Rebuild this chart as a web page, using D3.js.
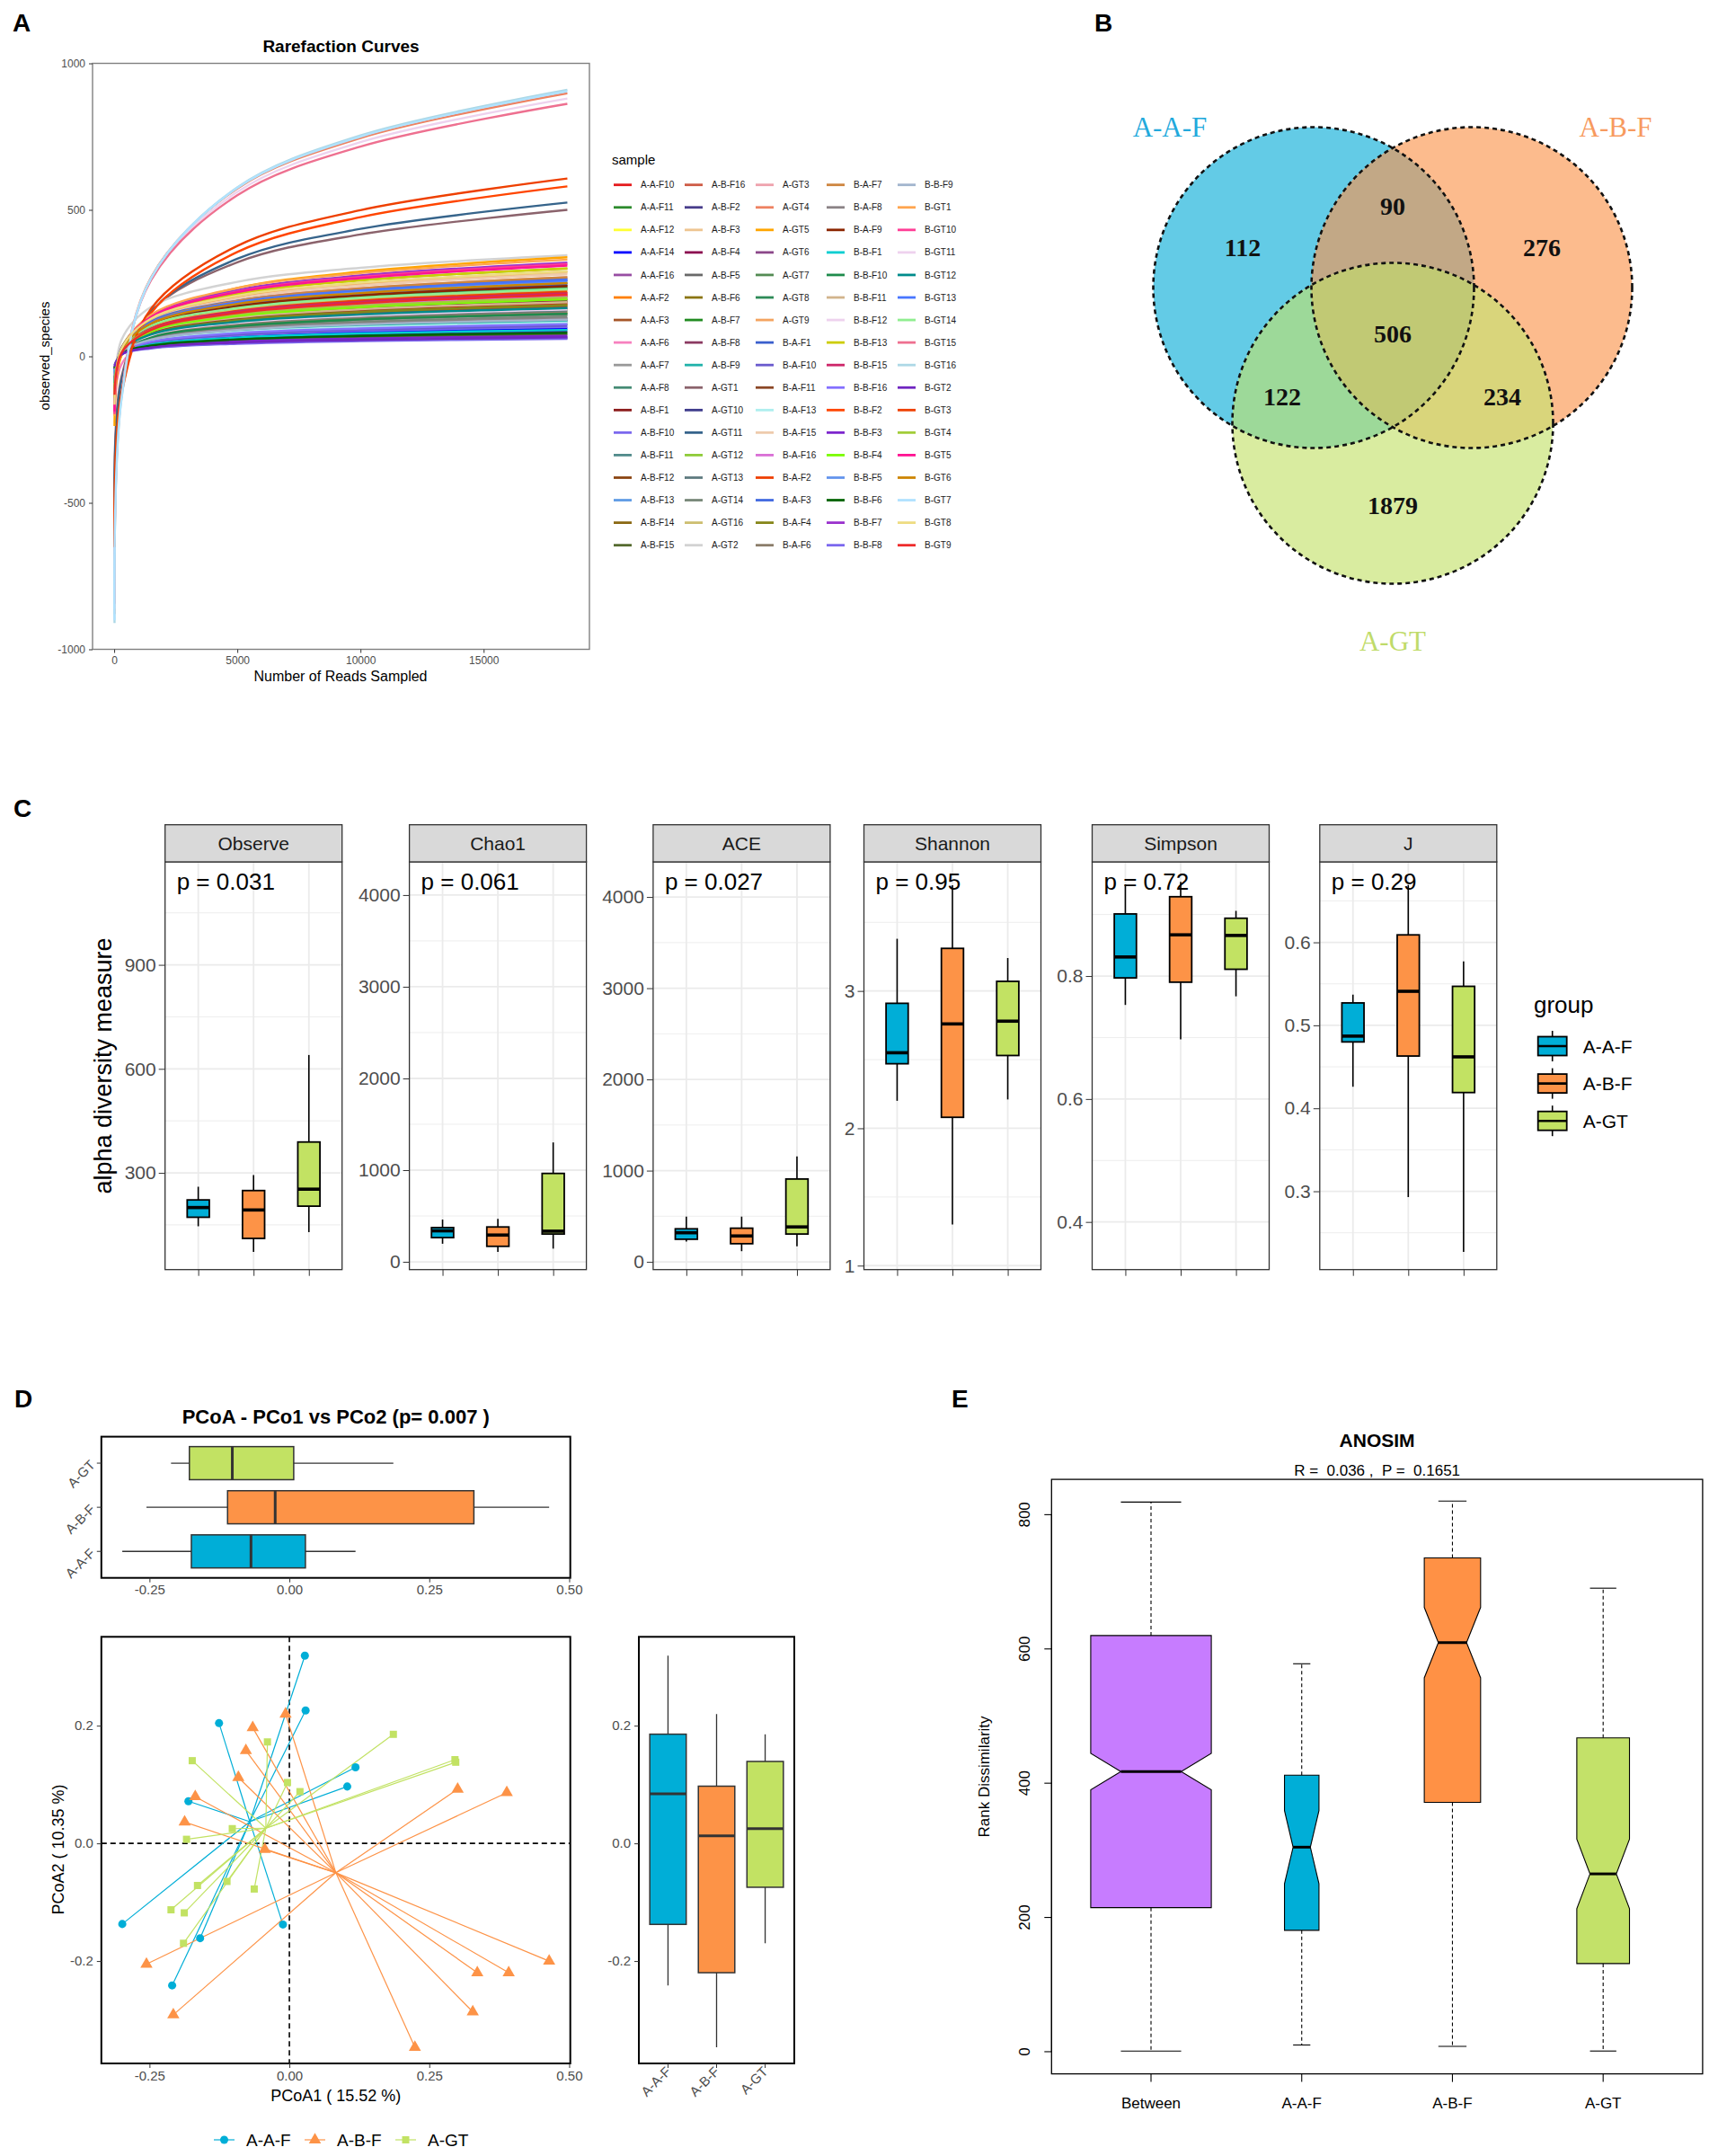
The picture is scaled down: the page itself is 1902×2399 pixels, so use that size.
<!DOCTYPE html>
<html>
<head>
<meta charset="utf-8">
<script src="https://cdn.jsdelivr.net/npm/d3@7"></script>
<style>
  body { margin: 0; background: #fff; }
</style>
</head>
<body>
<script>
// ---------------- data: panel A (rarefaction) ----------------
const sampleNames = [
  "A-A-F10","A-A-F11","A-A-F12","A-A-F14","A-A-F16","A-A-F2","A-A-F3","A-A-F6","A-A-F7","A-A-F8","A-B-F1","A-B-F10","A-B-F11","A-B-F12","A-B-F13","A-B-F14","A-B-F15",
  "A-B-F16","A-B-F2","A-B-F3","A-B-F4","A-B-F5","A-B-F6","A-B-F7","A-B-F8","A-B-F9","A-GT1","A-GT10","A-GT11","A-GT12","A-GT13","A-GT14","A-GT16","A-GT2",
  "A-GT3","A-GT4","A-GT5","A-GT6","A-GT7","A-GT8","A-GT9","B-A-F1","B-A-F10","B-A-F11","B-A-F13","B-A-F15","B-A-F16","B-A-F2","B-A-F3","B-A-F4","B-A-F6",
  "B-A-F7","B-A-F8","B-A-F9","B-B-F1","B-B-F10","B-B-F11","B-B-F12","B-B-F13","B-B-F15","B-B-F16","B-B-F2","B-B-F3","B-B-F4","B-B-F5","B-B-F6","B-B-F7","B-B-F8",
  "B-B-F9","B-GT1","B-GT10","B-GT11","B-GT12","B-GT13","B-GT14","B-GT15","B-GT16","B-GT2","B-GT3","B-GT4","B-GT5","B-GT6","B-GT7","B-GT8","B-GT9"
];
const sampleColors = [
  "#E41A1C","#2D8B2D","#FFFF33","#0000FF","#984EA3","#FF7F00","#A65628","#F781BF","#999999","#458B74","#8B1A1A","#7B68EE","#528B8B","#8B4513","#5F9BE5","#8B6914","#556B2F",
  "#CD5B45","#483D8B","#EEC591","#8B0A50","#696969","#8B7513","#228B22","#8B3A62","#20B2AA","#8B636C","#3D3A8B","#36648B","#8FCB3A","#5F7B80","#778778","#CDBE70","#D3D3D3",
  "#EEA2AD","#EE8262","#FFA500","#8B4789","#548B54","#2E8B57","#F4A460","#3A5FCD","#6A5ACD","#8B4726","#AEEEEE","#EECBAD","#DA70D6","#EE4000","#4169E1","#86861A","#8B7D6B",
  "#CD853F","#8B8386","#8B2500","#00CED1","#1F8B4C","#D2B48C","#EED2EE","#CDCD00","#CD2669","#8470FF","#FF4500","#7D26CD","#7CFC00","#6495ED","#006400","#9A32CD","#7B68EE",
  "#A2B5CD","#FFA54F","#FF3E96","#EED2EE","#008B8B","#4876FF","#90EE90","#EE7090","#ADD8E6","#7026C0","#EE4000","#A2CD3A","#FF1493","#CD8500","#B0E2FF","#EEDC82","#EE2C2C"
];
const readSteps = [15, 300, 1500, 5000, 10000, 18400];
const observedSpecies = [
  [-104,15,80,128,156,180],[-126,24,105,165,200,230],[-99,6,62,105,129,150],[-47,13,45,69,83,95],[-79,5,50,84,103,120],
  [-146,4,85,145,180,210],[-100,13,75,121,147,170],[-191,-27,62,129,166,200],[-73,16,65,101,122,140],[-61,11,50,79,95,110],
  [-122,16,90,145,177,205],[-56,9,45,71,87,100],[-74,10,55,89,108,125],[-130,26,109,172,208,240],[-69,15,60,94,113,130],
  [-96,12,70,113,138,160],[-39,9,35,54,65,75],
  [-126,17,94,153,186,215],[-30,8,29,45,54,62],[-156,30,129,204,247,285],[-109,17,85,135,164,190],[-83,13,65,103,126,145],
  [-95,18,80,126,152,175],[-134,28,115,180,217,250],[-91,17,75,118,143,165],[-65,13,55,86,104,120],[-481,-69,154,321,416,500],
  [-43,11,40,62,74,85],[-527,-85,154,333,435,525],[-169,28,134,214,260,300],[-87,15,70,111,134,155],[-78,11,60,96,117,135],
  [-131,19,100,160,195,225],[-153,57,169,254,302,345],
  [-157,23,119,192,233,270],[-880,-132,270,573,745,898],[-238,4,135,233,289,338],[-138,29,119,187,226,260],[-118,14,85,138,168,195],
  [-135,21,105,167,203,235],[-179,18,124,204,250,290],[-139,23,109,175,212,245],[-59,10,47,75,91,105],[-114,12,80,130,159,185],
  [-63,12,52,83,100,115],[-175,16,119,197,241,280],[-122,16,90,145,177,205],[-136,14,95,155,190,220],[-147,26,119,190,230,265],
  [-109,10,75,123,151,175],[-85,14,67,107,130,150],
  [-171,15,114,189,232,270],[-69,15,60,94,113,130],[-137,22,107,171,208,240],[-52,8,40,64,78,90],[-83,13,65,103,126,145],
  [-99,20,85,133,161,185],[-89,16,72,115,139,160],[-184,20,129,212,259,300],[-126,17,94,153,186,215],[-61,11,50,79,95,110],
  [-643,-129,148,356,475,580],[-37,8,32,51,61,70],[-118,14,85,138,168,195],[-143,24,114,182,221,255],[-41,10,37,58,70,80],
  [-192,23,139,226,276,320],[-32,6,27,43,52,60],
  [-67,14,57,90,109,125],[-203,21,142,233,284,330],[-197,18,134,221,271,315],[-862,-129,265,561,731,880],[-91,17,75,118,143,165],
  [-152,21,114,185,225,260],[-126,24,105,165,200,230],[-844,-127,260,550,716,862],[-910,-145,267,577,754,910],[-35,7,30,47,56,65],
  [-651,-122,163,377,499,607],[-113,19,90,143,173,200],[-188,22,134,219,267,310],[-141,23,112,179,216,250],[-901,-141,267,575,750,905],
  [-165,26,129,207,251,290],[-131,12,90,148,181,210]
];
const rareXTicks = [0, 5000, 10000, 15000];
const rareYTicks = [-1000, -500, 0, 500, 1000];

// ---------------- data: panel B (Venn) ----------------
const vennSets = ["A-A-F", "A-B-F", "A-GT"];
const vennRegions = ["A", "AB", "B", "ABC", "AC", "BC", "C"];
const vennCounts = [112, 90, 276, 506, 122, 234, 1879];

// ---------------- data: panel C (alpha diversity) ----------------
const groups = ["A-A-F", "A-B-F", "A-GT"];
const groupColors = ["#00AED7", "#FD9347", "#C2E263"];
const alphaIndices = ["Observe", "Chao1", "ACE", "Shannon", "Simpson", "J"];
const alphaP = ["0.031", "0.061", "0.027", "0.95", "0.72", "0.29"];
// [min, q1, median, q3, max] for A-A-F, A-B-F, A-GT
const observeStats = [[146,172,200,222,260],[72,111,193,249,294],[129,204,253,389,640]];
const chao1Stats   = [[197,264,338,373,461],[109,169,292,380,468],[144,303,334,964,1302]];
const aceStats     = [[223,248,319,362,496],[117,199,284,369,496],[170,305,383,908,1156]];
const shannonStats = [[2.20,2.47,2.55,2.91,3.38],[1.30,2.08,2.76,3.31,3.77],[2.21,2.53,2.78,3.07,3.24]];
const simpsonStats = [[0.753,0.797,0.831,0.901,0.949],[0.697,0.790,0.867,0.929,0.953],[0.767,0.811,0.866,0.894,0.906]];
const jStats       = [[0.426,0.480,0.487,0.527,0.537],[0.293,0.463,0.541,0.609,0.669],[0.227,0.419,0.462,0.547,0.577]];
const alphaStats = [observeStats, chao1Stats, aceStats, shannonStats, simpsonStats, jStats];
const alphaDomains = [[21,1197],[-85,4362],[-85,4385],[0.971,3.94],[0.3225,0.9857],[0.2056,0.697]];
const alphaTicks = [[300,600,900],[0,1000,2000,3000,4000],[0,1000,2000,3000,4000],[1,2,3],[0.4,0.6,0.8],[0.3,0.4,0.5,0.6]];

// ---------------- data: panel D (PCoA) ----------------
const pcoaAAF = [[0.0277,0.319],[0.029,0.2259],[-0.1257,0.2043],[0.1182,0.1293],[0.1034,0.0966],
  [-0.1804,0.0716],[-0.2986,-0.1371],[-0.1595,-0.1612],[-0.0115,-0.1379],[-0.2095,-0.2414]];
const pcoaABF = [[-0.0068,0.2198],[-0.0655,0.1966],[-0.0777,0.1578],[-0.0912,0.1121],[-0.1682,0.0793],
  [-0.1872,0.0362],[-0.0439,-0.0103],[0.3007,0.0922],[0.3885,0.0862],[-0.2554,-0.2052],[-0.2074,-0.2914],
  [0.2243,-0.3466],[0.3277,-0.2862],[0.3358,-0.2198],[0.3919,-0.2198],[0.4642,-0.2]];
const pcoaAGT = [[-0.0392,0.1724],[0.1858,0.1853],[0.2959,0.1422],[0.2973,0.1379],[-0.1736,0.1405],
  [-0.0034,0.1034],[0.0189,0.0879],[-0.102,0.025],[-0.1838,0.0069],[-0.1642,-0.0716],[-0.1115,-0.0647],
  [-0.0628,-0.0776],[-0.2115,-0.1129],[-0.1878,-0.1181],[-0.1892,-0.1698]];
const pcoaTicks = [-0.25, 0, 0.25, 0.5];
const pcoaYTicks = [-0.2, 0, 0.2];

// ---------------- data: panel E (ANOSIM) ----------------
const anosimGroups = ["Between", "A-A-F", "A-B-F", "A-GT"];
const anosimColors = ["#C77CFF", "#00AED7", "#FF9145", "#C3E169"];
const anosimStats = [[1,214.6,417.3,619.9,818.8],[10,180.9,304.7,412,577.9],[8,371.5,609.4,735.5,820.3],[1,131.3,264.9,467.6,690.5]];
const anosimPairs = [550, 45, 120, 105];
const anosimTicks = [0, 200, 400, 600, 800];

// ================================================================
const svg = d3.select("body").append("svg")
  .attr("width", 1902).attr("height", 2399)
  .style("font-family", "'Liberation Sans', Arial, Helvetica, sans-serif");
svg.append("rect").attr("width", 1902).attr("height", 2399).attr("fill", "#fff");
const defs = svg.append("defs");

function styleAxis(g, size, color) {
  g.attr("font-family", null).attr("font-size", size);
  g.select(".domain").remove();
  g.selectAll(".tick line").attr("stroke", "#333");
  g.selectAll(".tick text").attr("fill", color);
}
const plain = d => String(d);

// panel letters
[["A",14,35],["B",1218,35],["C",15,909],["D",16,1566],["E",1059,1566]].forEach(p => {
  svg.append("text").attr("x", p[1]).attr("y", p[2]).text(p[0])
    .attr("font-size", 28).attr("font-weight", "bold");
});

// ---------------- panel A ----------------
{
  const x0 = 103, x1 = 656, y0 = 70.5, y1 = 722.5;
  const x = d3.scaleLinear().domain([-878, 19296]).range([x0, x1]);
  const y = d3.scaleLinear().domain([-1000, 1000]).range([y1, y0]);
  const g = svg.append("g");
  defs.append("clipPath").attr("id", "clipA").append("rect")
    .attr("x", x0).attr("y", y0).attr("width", x1 - x0).attr("height", y1 - y0);
  const line = d3.line().x((d, i) => x(readSteps[i])).y(d => y(d)).curve(d3.curveCatmullRom.alpha(0.5));
  g.append("g").attr("clip-path", "url(#clipA)")
    .selectAll("path").data(observedSpecies).join("path")
    .attr("d", line).attr("fill", "none")
    .attr("stroke", (d, i) => sampleColors[i]).attr("stroke-width", 2.4);
  g.append("rect").attr("x", x0).attr("y", y0).attr("width", x1 - x0).attr("height", y1 - y0)
    .attr("fill", "none").attr("stroke", "#808080").attr("stroke-width", 1.4);
  const ay = g.append("g").attr("transform", `translate(${x0},0)`)
    .call(d3.axisLeft(y).tickValues(rareYTicks).tickSize(4).tickPadding(4).tickFormat(plain));
  styleAxis(ay, 12, "#4D4D4D");
  const ax = g.append("g").attr("transform", `translate(0,${y1})`)
    .call(d3.axisBottom(x).tickValues(rareXTicks).tickSize(4).tickPadding(4).tickFormat(plain));
  styleAxis(ax, 12, "#4D4D4D");
  g.append("text").attr("x", (x0 + x1) / 2).attr("y", 58).attr("text-anchor", "middle")
    .attr("font-size", 19).attr("font-weight", "bold").text("Rarefaction Curves");
  g.append("text").attr("x", 379).attr("y", 758).attr("text-anchor", "middle")
    .attr("font-size", 16).text("Number of Reads Sampled");
  g.append("text").attr("transform", "translate(55,396) rotate(-90)").attr("text-anchor", "middle")
    .attr("font-size", 15).text("observed_species");

  const leg = g.append("g");
  leg.append("text").attr("x", 681).attr("y", 183).attr("font-size", 15).text("sample");
  const item = leg.selectAll("g.it").data(sampleNames).join("g").attr("class", "it")
    .attr("transform", (d, i) => `translate(${683 + Math.floor(i / 17) * 79},${205.7 + (i % 17) * 25.06})`);
  item.append("line").attr("x1", 0).attr("x2", 20)
    .attr("stroke", (d, i) => sampleColors[i]).attr("stroke-width", 2.8);
  item.append("text").attr("x", 30).attr("y", 3.6).attr("font-size", 10).attr("fill", "#1a1a1a").text(d => d);
}

// ---------------- panel B ----------------
{
  const circles = [{cx: 1462, cy: 320}, {cx: 1638, cy: 320}, {cx: 1550, cy: 471}];
  const r = 178.5;
  const regionFill = {A: "#63CBE6", B: "#FCBB8D", C: "#D9ECA0", AB: "#C2A886", AC: "#9DD999", BC: "#D9D57B", ABC: "#C1C974"};
  const labelPos = {A: [1383, 275], AB: [1550, 229], B: [1716, 275], ABC: [1550, 371], AC: [1427, 441], BC: [1672, 441], C: [1550, 562]};
  const setLabelPos = [[1302, 141], [1798, 141], [1550, 713]];
  const setColors = ["#22A9DC", "#F79A5E", "#BFDB6A"];
  const g = svg.append("g");
  circles.forEach((c, i) => {
    defs.append("clipPath").attr("id", "vclip" + i).append("circle").attr("cx", c.cx).attr("cy", c.cy).attr("r", r);
  });
  const circ = (sel, c, fill) => sel.append("circle").attr("cx", c.cx).attr("cy", c.cy).attr("r", r).attr("fill", fill);
  circ(g, circles[0], regionFill.A);
  circ(g, circles[1], regionFill.B);
  circ(g, circles[2], regionFill.C);
  circ(g.append("g").attr("clip-path", "url(#vclip0)"), circles[1], regionFill.AB);
  circ(g.append("g").attr("clip-path", "url(#vclip0)"), circles[2], regionFill.AC);
  circ(g.append("g").attr("clip-path", "url(#vclip1)"), circles[2], regionFill.BC);
  circ(g.append("g").attr("clip-path", "url(#vclip0)").append("g").attr("clip-path", "url(#vclip1)"), circles[2], regionFill.ABC);
  g.selectAll("circle.o").data(circles).join("circle").attr("class", "o")
    .attr("cx", d => d.cx).attr("cy", d => d.cy).attr("r", r)
    .attr("fill", "none").attr("stroke", "#111").attr("stroke-width", 2.6).attr("stroke-dasharray", "5,4");
  g.selectAll("text.n").data(vennRegions).join("text").attr("class", "n")
    .attr("x", d => labelPos[d][0]).attr("y", d => labelPos[d][1])
    .attr("text-anchor", "middle").attr("dominant-baseline", "central")
    .attr("font-family", "'Liberation Serif', 'Times New Roman', serif").attr("font-weight", "bold")
    .attr("font-size", 28).attr("fill", "#111")
    .text((d, i) => vennCounts[i]);
  g.selectAll("text.s").data(vennSets).join("text").attr("class", "s")
    .attr("x", (d, i) => setLabelPos[i][0]).attr("y", (d, i) => setLabelPos[i][1])
    .attr("text-anchor", "middle").attr("dominant-baseline", "central")
    .attr("font-family", "'Liberation Serif', 'Times New Roman', serif")
    .attr("font-size", 31).attr("fill", (d, i) => setColors[i]).text(d => d);
}

// ---------------- panel C ----------------
{
  const panelX = [183.7, 455.6, 726.9, 961.5, 1215.5, 1468.8];
  const pw = 197, stripTop = 917.7, top = 959, bottom = 1412.7;
  alphaIndices.forEach((name, k) => {
    const x0 = panelX[k], x1 = x0 + pw;
    const x = d3.scalePoint().domain(groups).range([x0, x1]).padding(0.6);
    const dom = alphaDomains[k];
    const y = d3.scaleLinear().domain(dom).range([bottom, top]);
    const ticks = alphaTicks[k];
    const step = ticks[1] - ticks[0];
    const minors = [ticks[0] - step / 2].concat(ticks.map(t => t + step / 2)).filter(v => v > dom[0] && v < dom[1]);
    const g = svg.append("g");
    g.selectAll("line.mi").data(minors).join("line").attr("class", "mi")
      .attr("x1", x0).attr("x2", x1).attr("y1", d => y(d)).attr("y2", d => y(d))
      .attr("stroke", "#EBEBEB").attr("stroke-width", 0.9);
    g.selectAll("line.ma").data(ticks).join("line").attr("class", "ma")
      .attr("x1", x0).attr("x2", x1).attr("y1", d => y(d)).attr("y2", d => y(d))
      .attr("stroke", "#EBEBEB").attr("stroke-width", 1.8);
    g.selectAll("line.vx").data(groups).join("line").attr("class", "vx")
      .attr("x1", d => x(d)).attr("x2", d => x(d)).attr("y1", top).attr("y2", bottom)
      .attr("stroke", "#EBEBEB").attr("stroke-width", 1.8);
    const bw = x.step() * 0.4;
    const box = g.selectAll("g.b").data(alphaStats[k]).join("g").attr("class", "b");
    box.append("line").attr("x1", (d, i) => x(groups[i])).attr("x2", (d, i) => x(groups[i]))
      .attr("y1", d => y(d[0])).attr("y2", d => y(d[4])).attr("stroke", "#000").attr("stroke-width", 1.6);
    box.append("rect").attr("x", (d, i) => x(groups[i]) - bw / 2).attr("width", bw)
      .attr("y", d => y(d[3])).attr("height", d => y(d[1]) - y(d[3]))
      .attr("fill", (d, i) => groupColors[i]).attr("stroke", "#000").attr("stroke-width", 1.8);
    box.append("line").attr("x1", (d, i) => x(groups[i]) - bw / 2).attr("x2", (d, i) => x(groups[i]) + bw / 2)
      .attr("y1", d => y(d[2])).attr("y2", d => y(d[2])).attr("stroke", "#000").attr("stroke-width", 3.6);
    g.append("rect").attr("x", x0).attr("y", top).attr("width", pw).attr("height", bottom - top)
      .attr("fill", "none").attr("stroke", "#333").attr("stroke-width", 1.3);
    g.append("rect").attr("x", x0).attr("y", stripTop).attr("width", pw).attr("height", top - stripTop)
      .attr("fill", "#D9D9D9").attr("stroke", "#333").attr("stroke-width", 1.3);
    g.append("text").attr("x", (x0 + x1) / 2).attr("y", (stripTop + top) / 2).attr("dominant-baseline", "central")
      .attr("text-anchor", "middle").attr("font-size", 21).attr("fill", "#1A1A1A").text(name);
    const ay = g.append("g").attr("transform", `translate(${x0},0)`)
      .call(d3.axisLeft(y).tickValues(ticks).tickSize(7).tickPadding(3).tickFormat(plain));
    styleAxis(ay, 21, "#4D4D4D");
    const ax = g.append("g").attr("transform", `translate(0,${bottom})`)
      .call(d3.axisBottom(x).tickSize(7).tickFormat(""));
    styleAxis(ax, 10, "#4D4D4D");
    g.append("text").attr("x", x0 + 13).attr("y", 990).attr("font-size", 26).attr("fill", "#000")
      .text("p = " + alphaP[k]);
  });
  svg.append("text").attr("transform", "translate(124,1186) rotate(-90)").attr("text-anchor", "middle")
    .attr("font-size", 27).text("alpha diversity measure");
  const leg = svg.append("g");
  leg.append("text").attr("x", 1707).attr("y", 1127).attr("font-size", 26).text("group");
  const it = leg.selectAll("g.k").data(groups).join("g").attr("class", "k")
    .attr("transform", (d, i) => `translate(1727.7,${1164 + i * 41.6})`);
  it.append("line").attr("y1", -17).attr("y2", 17).attr("stroke", "#000").attr("stroke-width", 1.6);
  it.append("rect").attr("x", -16).attr("y", -10.5).attr("width", 32).attr("height", 21)
    .attr("fill", (d, i) => groupColors[i]).attr("stroke", "#000").attr("stroke-width", 1.8);
  it.append("line").attr("x1", -16).attr("x2", 16).attr("stroke", "#000").attr("stroke-width", 2.6);
  it.append("text").attr("x", 34).attr("dominant-baseline", "central").attr("font-size", 21).text(d => d);
}

// ---------------- panel D ----------------
{
  const x0 = 112.8, x1 = 634.7;
  const tTop = 1598.6, tBot = 1755.7, sTop = 1821.3, sBot = 2296, rX0 = 711, rX1 = 884;
  const sets = [pcoaAAF, pcoaABF, pcoaAGT];
  const shapes = [d3.symbolCircle, d3.symbolTriangle, d3.symbolSquare];
  const x = d3.scaleLinear().domain([-0.336, 0.502]).range([x0, x1]);
  const y = d3.scaleLinear().domain([-0.374, 0.351]).range([sBot, sTop]);
  const f2 = d => d.toFixed(2), f1 = d => d.toFixed(1);
  function boxStats(vals) {
    const s = vals.slice().sort(d3.ascending);
    const q1 = d3.quantileSorted(s, 0.25), md = d3.quantileSorted(s, 0.5), q3 = d3.quantileSorted(s, 0.75);
    const iqr = q3 - q1;
    return [d3.min(s.filter(v => v >= q1 - 1.5 * iqr)), q1, md, q3, d3.max(s.filter(v => v <= q3 + 1.5 * iqr))];
  }
  const g = svg.append("g");
  g.append("text").attr("x", (x0 + x1) / 2).attr("y", 1584).attr("text-anchor", "middle")
    .attr("font-size", 22).attr("font-weight", "bold").text("PCoA - PCo1 vs PCo2 (p= 0.007 )");

  // top boxplot (PCo1)
  const yb = d3.scalePoint().domain(groups).range([tBot, tTop]).padding(0.6);
  const bh = yb.step() * 0.75;
  sets.forEach((pts, i) => {
    const st = boxStats(pts.map(p => p[0]));
    const cy = yb(groups[i]);
    g.append("line").attr("x1", x(st[0])).attr("x2", x(st[4])).attr("y1", cy).attr("y2", cy)
      .attr("stroke", "#333").attr("stroke-width", 1.3);
    g.append("rect").attr("x", x(st[1])).attr("width", x(st[3]) - x(st[1])).attr("y", cy - bh / 2).attr("height", bh)
      .attr("fill", groupColors[i]).attr("stroke", "#333").attr("stroke-width", 1.5);
    g.append("line").attr("x1", x(st[2])).attr("x2", x(st[2])).attr("y1", cy - bh / 2).attr("y2", cy + bh / 2)
      .attr("stroke", "#333").attr("stroke-width", 3);
  });
  g.append("rect").attr("x", x0).attr("y", tTop).attr("width", x1 - x0).attr("height", tBot - tTop)
    .attr("fill", "none").attr("stroke", "#000").attr("stroke-width", 2);
  const tx = g.append("g").attr("transform", `translate(0,${tBot})`)
    .call(d3.axisBottom(x).tickValues(pcoaTicks).tickSize(5).tickPadding(3).tickFormat(f2));
  styleAxis(tx, 15, "#4D4D4D");
  groups.forEach(gr => {
    g.append("line").attr("x1", x0 - 5).attr("x2", x0).attr("y1", yb(gr)).attr("y2", yb(gr)).attr("stroke", "#333");
    g.append("text").attr("transform", `translate(${x0 - 6},${yb(gr) + 3}) rotate(-45)`)
      .attr("text-anchor", "end").attr("font-size", 15).attr("fill", "#4D4D4D").text(gr);
  });

  // scatter
  g.append("line").attr("x1", x(0)).attr("x2", x(0)).attr("y1", sTop).attr("y2", sBot)
    .attr("stroke", "#000").attr("stroke-width", 1.6).attr("stroke-dasharray", "6,4");
  g.append("line").attr("x1", x0).attr("x2", x1).attr("y1", y(0)).attr("y2", y(0))
    .attr("stroke", "#000").attr("stroke-width", 1.6).attr("stroke-dasharray", "6,4");
  sets.forEach((pts, i) => {
    const cx = d3.mean(pts, p => p[0]), cy = d3.mean(pts, p => p[1]);
    g.append("g").selectAll("line").data(pts).join("line")
      .attr("x1", p => x(p[0])).attr("y1", p => y(p[1])).attr("x2", x(cx)).attr("y2", y(cy))
      .attr("stroke", groupColors[i]).attr("stroke-width", 1.2);
  });
  sets.forEach((pts, i) => {
    g.append("g").selectAll("path").data(pts).join("path")
      .attr("transform", p => `translate(${x(p[0])},${y(p[1])})`)
      .attr("d", d3.symbol().type(shapes[i]).size(i === 1 ? 80 : 64))
      .attr("fill", groupColors[i]);
  });
  g.append("rect").attr("x", x0).attr("y", sTop).attr("width", x1 - x0).attr("height", sBot - sTop)
    .attr("fill", "none").attr("stroke", "#000").attr("stroke-width", 2);
  const sx = g.append("g").attr("transform", `translate(0,${sBot})`)
    .call(d3.axisBottom(x).tickValues(pcoaTicks).tickSize(5).tickPadding(3).tickFormat(f2));
  styleAxis(sx, 15, "#4D4D4D");
  const sy = g.append("g").attr("transform", `translate(${x0},0)`)
    .call(d3.axisLeft(y).tickValues(pcoaYTicks).tickSize(5).tickPadding(4).tickFormat(f1));
  styleAxis(sy, 15, "#4D4D4D");
  g.append("text").attr("x", (x0 + x1) / 2).attr("y", 2338).attr("text-anchor", "middle")
    .attr("font-size", 18).text("PCoA1 ( 15.52 %)");
  g.append("text").attr("transform", "translate(71,2058) rotate(-90)").attr("text-anchor", "middle")
    .attr("font-size", 18).text("PCoA2 ( 10.35 %)");

  // right boxplot (PCo2)
  const xr = d3.scalePoint().domain(groups).range([rX0, rX1]).padding(0.6);
  const bw = xr.step() * 0.75;
  sets.forEach((pts, i) => {
    const st = boxStats(pts.map(p => p[1]));
    const cx = xr(groups[i]);
    g.append("line").attr("x1", cx).attr("x2", cx).attr("y1", y(st[0])).attr("y2", y(st[4]))
      .attr("stroke", "#333").attr("stroke-width", 1.3);
    g.append("rect").attr("x", cx - bw / 2).attr("width", bw).attr("y", y(st[3])).attr("height", y(st[1]) - y(st[3]))
      .attr("fill", groupColors[i]).attr("stroke", "#333").attr("stroke-width", 1.5);
    g.append("line").attr("x1", cx - bw / 2).attr("x2", cx + bw / 2).attr("y1", y(st[2])).attr("y2", y(st[2]))
      .attr("stroke", "#333").attr("stroke-width", 3);
  });
  g.append("rect").attr("x", rX0).attr("y", sTop).attr("width", rX1 - rX0).attr("height", sBot - sTop)
    .attr("fill", "none").attr("stroke", "#000").attr("stroke-width", 2);
  const ry = g.append("g").attr("transform", `translate(${rX0},0)`)
    .call(d3.axisLeft(y).tickValues(pcoaYTicks).tickSize(5).tickPadding(4).tickFormat(f1));
  styleAxis(ry, 15, "#4D4D4D");
  groups.forEach(gr => {
    g.append("line").attr("x1", xr(gr)).attr("x2", xr(gr)).attr("y1", sBot).attr("y2", sBot + 5).attr("stroke", "#333");
    g.append("text").attr("transform", `translate(${xr(gr) + 4},${sBot + 10}) rotate(-45)`)
      .attr("text-anchor", "end").attr("font-size", 15).attr("fill", "#4D4D4D").text(gr);
  });

  // legend
  const lg = g.selectAll("g.lg").data(groups).join("g").attr("class", "lg")
    .attr("transform", (d, i) => `translate(${238 + i * 101},2381)`);
  lg.append("line").attr("x1", 0).attr("x2", 23).attr("stroke", (d, i) => groupColors[i]).attr("stroke-width", 1.2);
  lg.append("path").attr("transform", "translate(11.5,0)")
    .attr("d", (d, i) => d3.symbol().type(shapes[i]).size(i === 1 ? 80 : 64)())
    .attr("fill", (d, i) => groupColors[i]);
  lg.append("text").attr("x", 36).attr("dominant-baseline", "central").attr("font-size", 19).text(d => d);
}

// ---------------- panel E ----------------
{
  const x0 = 1170.3, x1 = 1894.9, y0 = 1646.1, y1 = 2307.6;
  const x = d3.scaleLinear().domain([0.34, 4.66]).range([x0, x1]);
  const y = d3.scaleLinear().domain([-33, 852.6]).range([y1, y0]);
  const unit = x(1) - x(0);
  const maxSqrt = Math.sqrt(d3.max(anosimPairs));
  const g = svg.append("g");
  g.append("text").attr("x", (x0 + x1) / 2).attr("y", 1610).attr("text-anchor", "middle")
    .attr("font-size", 21).attr("font-weight", "bold").text("ANOSIM");
  g.append("text").attr("x", (x0 + x1) / 2).attr("y", 1642).attr("text-anchor", "middle")
    .attr("font-size", 17).attr("xml:space", "preserve").text("R =  0.036 ,  P =  0.1651");
  anosimStats.forEach((st, i) => {
    const cx = x(i + 1);
    const w = 0.8 * Math.sqrt(anosimPairs[i]) / maxSqrt * unit;
    const notch = 1.58 * (st[3] - st[1]) / Math.sqrt(anosimPairs[i]);
    const L = cx - w / 2, R = cx + w / 2, ins = w / 4;
    const nLo = y(st[2] - notch), nHi = y(st[2] + notch), my = y(st[2]);
    [[st[3], st[4]], [st[1], st[0]]].forEach(seg => {
      g.append("line").attr("x1", cx).attr("x2", cx).attr("y1", y(seg[0])).attr("y2", y(seg[1]))
        .attr("stroke", "#000").attr("stroke-width", 1.1).attr("stroke-dasharray", "4,3");
      g.append("line").attr("x1", cx - w / 4).attr("x2", cx + w / 4).attr("y1", y(seg[1])).attr("y2", y(seg[1]))
        .attr("stroke", "#000").attr("stroke-width", 1.1);
    });
    const pts = [[L, y(st[1])], [L, nLo], [L + ins, my], [L, nHi], [L, y(st[3])],
                 [R, y(st[3])], [R, nHi], [R - ins, my], [R, nLo], [R, y(st[1])]];
    g.append("path").attr("d", d3.line()(pts) + "Z")
      .attr("fill", anosimColors[i]).attr("stroke", "#000").attr("stroke-width", 1.1);
    g.append("line").attr("x1", L + ins).attr("x2", R - ins).attr("y1", my).attr("y2", my)
      .attr("stroke", "#000").attr("stroke-width", 3);
  });
  g.append("rect").attr("x", x0).attr("y", y0).attr("width", x1 - x0).attr("height", y1 - y0)
    .attr("fill", "none").attr("stroke", "#000").attr("stroke-width", 1.3);
  g.append("line").attr("x1", x0).attr("x2", x0).attr("y1", y(0)).attr("y2", y(800)).attr("stroke", "#000");
  anosimTicks.forEach(t => {
    g.append("line").attr("x1", x0 - 8).attr("x2", x0).attr("y1", y(t)).attr("y2", y(t)).attr("stroke", "#000").attr("stroke-width", 1.1);
    g.append("text").attr("transform", `translate(1146,${y(t)}) rotate(-90)`).attr("text-anchor", "middle")
      .attr("font-size", 17).text(t);
  });
  anosimGroups.forEach((gr, i) => {
    g.append("line").attr("x1", x(i + 1)).attr("x2", x(i + 1)).attr("y1", y1).attr("y2", y1 + 9)
      .attr("stroke", "#000").attr("stroke-width", 1.1);
    g.append("text").attr("x", x(i + 1)).attr("y", 2346).attr("text-anchor", "middle")
      .attr("font-size", 17).text(gr);
  });
  g.append("text").attr("transform", "translate(1101,1977) rotate(-90)").attr("text-anchor", "middle")
    .attr("font-size", 17).text("Rank Dissimilarity");
}
</script>
</body>
</html>
